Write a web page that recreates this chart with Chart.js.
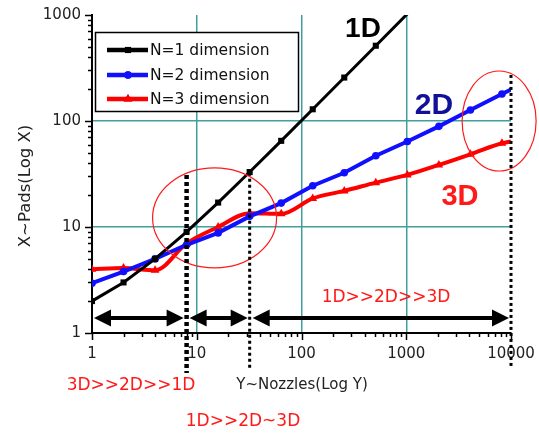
<!DOCTYPE html>
<html><head><meta charset="utf-8">
<script src="https://cdn.jsdelivr.net/npm/chart.js@4.4.0/dist/chart.umd.min.js"></script>
<style>html,body{margin:0;padding:0;background:#fff;overflow:hidden}</style>
</head><body>
<canvas id="c" width="539" height="437"></canvas>
<script>
// ---- data ----
const nozzles   = [1,2,4,8,16,32,64,128,256,512,1024,2048,4096,8192,10000];
const nozzles1D = [1,2,4,8,16,32,64,128,256,512,1024];
const pads1D = [2,3,5,9,17,33,65,129,257,513,1025];
const pads2D = [2.95,3.8,5.0,6.8,8.8,12.6,16.8,24.5,32.5,47,64,89,127,180,198];
const pads3D = [4.0,4.1,3.9,7.0,10.0,13.5,13.3,18.6,21.9,26.2,31,38.5,48.5,61.6,64];
const xTickLabels = [1,10,100,1000,10000];
const yTickLabels = [1,10,100,1000];
const seriesLabels = ['N=1 dimension','N=2 dimension','N=3 dimension'];
const boundaries = [8,32,10000];

const TEAL = '#40a0a0';
const RED = '#ff1a1a';
const pts = (xs, ys) => xs.map((x,i)=>({x, y: ys[i]}));
const isPow10 = v => { const l = Math.log10(v); return Math.abs(l-Math.round(l))<1e-9; };
const lastZero = r => ctx => (ctx.dataIndex === ctx.dataset.data.length-1 ? 0 : r);
const noPad = s => { s.paddingTop = 0; s.paddingBottom = 0; s.paddingLeft = 0; s.paddingRight = 0; };

const annot = {
  id: 'annot',
  afterDatasetsDraw(chart) {
    const ctx = chart.ctx, xs = chart.scales.x, ys = chart.scales.y;
    const px = v => xs.getPixelForValue(v), py = v => ys.getPixelForValue(v);
    const bottom = chart.chartArea.bottom, left = chart.chartArea.left;
    ctx.save();
    // tick marks
    ctx.strokeStyle = '#000'; ctx.lineWidth = 1.5;
    for (let e = 0; e <= 3; e++) for (let d = 1; d <= 9; d++) {
      const v = d*Math.pow(10,e); if (v > 10000) break;
      const x = Math.round(px(v))+0.5, L = d===1?7:4;
      ctx.beginPath(); ctx.moveTo(x, bottom); ctx.lineTo(x, bottom+L); ctx.stroke();
    }
    { const x = Math.round(px(10000))+0.5; ctx.beginPath(); ctx.moveTo(x,bottom); ctx.lineTo(x,bottom+7); ctx.stroke(); }
    for (let e = 0; e <= 2; e++) for (let d = 1; d <= 9; d++) {
      const v = d*Math.pow(10,e);
      const y = Math.round(py(v))+0.5, L = d===1?7:4;
      ctx.beginPath(); ctx.moveTo(left, y); ctx.lineTo(left-L, y); ctx.stroke();
    }
    { const y = Math.round(py(1000))+0.5; ctx.beginPath(); ctx.moveTo(left,y); ctx.lineTo(left-7,y); ctx.stroke(); }

    // ellipses
    ctx.strokeStyle = RED; ctx.lineWidth = 1.2;
    [[14.8,12.2,62,50],[7700,100,37,50]].forEach(([cx,cy,rx,ry])=>{
      ctx.beginPath(); ctx.ellipse(px(cx), py(cy), rx, ry, 0, 0, Math.PI*2); ctx.stroke();
    });

    // dotted boundary lines
    ctx.strokeStyle = '#000';
    const dl = [[boundaries[0], 31, 40, 4.5, [4,3]],[boundaries[1], 32.5, 35, 3, [3,3]],[boundaries[2], 272, 34, 3, [3,3]]];
    dl.forEach(([xv, yTop, ext, w, dash])=>{
      ctx.lineWidth = w; ctx.setLineDash(dash);
      const x = px(xv);
      ctx.beginPath(); ctx.moveTo(x, py(yTop)); ctx.lineTo(x, bottom+ext); ctx.stroke();
    });
    ctx.setLineDash([]);

    // double arrows
    const ay = py(1.385);
    const arrow = (x1, x2) => {
      const head = 17, hw = 8.5;
      ctx.fillStyle = '#000'; ctx.lineWidth = 4;
      ctx.beginPath(); ctx.moveTo(x1+head-2, ay); ctx.lineTo(x2-head+2, ay); ctx.stroke();
      ctx.beginPath(); ctx.moveTo(x1, ay); ctx.lineTo(x1+head, ay-hw); ctx.lineTo(x1+head, ay+hw); ctx.closePath(); ctx.fill();
      ctx.beginPath(); ctx.moveTo(x2, ay); ctx.lineTo(x2-head, ay-hw); ctx.lineTo(x2-head, ay+hw); ctx.closePath(); ctx.fill();
    };
    arrow(px(1)+2, px(boundaries[0])-3);
    arrow(px(boundaries[0])+3, px(boundaries[1])-2);
    arrow(px(boundaries[1])+3, px(boundaries[2])-2);

    // texts
    ctx.textAlign = 'center'; ctx.textBaseline = 'middle';
    const txt = (s, x, y, font, color) => { ctx.font = font; ctx.fillStyle = color; ctx.fillText(s, x, y); };
    txt('1D', 363, 29, 'bold 28px "Liberation Sans", Arial', '#000');
    txt('2D', 434, 106, 'bold 30px "Liberation Sans", Arial', '#10109a');
    txt('3D', 460, 197, 'bold 29px "Liberation Sans", Arial', RED);
    txt('1D>>2D>>3D', 386, 298, '17px "DejaVu Sans"', RED);
    txt('3D>>2D>>1D', 131, 386, '17px "DejaVu Sans"', RED);
    txt('1D>>2D~3D', 243, 422, '17px "DejaVu Sans"', RED);
    txt('Y~Nozzles(Log Y)', 302, 385, '15px "DejaVu Sans"', '#222');
    ctx.save(); ctx.translate(26, 186); ctx.rotate(-Math.PI/2);
    txt('X~Pads(Log X)', 0, 0, '16.5px "DejaVu Sans"', '#222');
    ctx.restore();

    // legend
    ctx.fillStyle = '#fff'; ctx.fillRect(95, 32, 203, 79);
    ctx.strokeStyle = '#000'; ctx.lineWidth = 1.5; ctx.strokeRect(95.5, 32.5, 203, 79);
    const rows = [50, 75, 99];
    chart.data.datasets.forEach((ds, i) => {
      const y = rows[i];
      ctx.strokeStyle = ds.borderColor; ctx.fillStyle = ds.borderColor; ctx.lineWidth = 4.5;
      ctx.beginPath(); ctx.moveTo(107, y); ctx.lineTo(148, y); ctx.stroke();
      Chart.helpers.drawPoint(ctx, {pointStyle: ds.pointStyle, radius: ds.legendRadius, borderWidth: 0}, 128, y);
      ctx.fill();
      ctx.font = '15.5px "DejaVu Sans"'; ctx.fillStyle = '#111'; ctx.textAlign = 'left';
      ctx.fillText(ds.label, 150, y+1);
    });
    ctx.restore();
  }
};

new Chart(document.getElementById('c'), {
  type: 'line',
  data: { datasets: [
    { label: seriesLabels[0], data: pts(nozzles1D, pads1D), borderColor: '#000', backgroundColor: '#000',
      borderWidth: 3, pointStyle: 'rect', pointRadius: lastZero(4.3), legendRadius: 4.3, pointBorderWidth: 0, tension: 0 },
    { label: seriesLabels[1], data: pts(nozzles, pads2D), borderColor: '#1010ff', backgroundColor: '#1010ff',
      borderWidth: 4, pointStyle: 'circle', pointRadius: lastZero(3.8), legendRadius: 3.8, pointBorderWidth: 0, tension: 0 },
    { label: seriesLabels[2], data: pts(nozzles, pads3D), borderColor: '#ff0000', backgroundColor: '#ff0000',
      borderWidth: 4, pointStyle: 'triangle', pointRadius: lastZero(5), legendRadius: 5, pointBorderWidth: 0, cubicInterpolationMode: 'monotone' }
  ]},
  options: {
    responsive: false, animation: false, devicePixelRatio: 1,
    layout: { padding: { top: 15, right: 28, left: 0, bottom: 0 } },
    plugins: { legend: { display: false }, tooltip: { enabled: false } },
    scales: {
      x: { type: 'logarithmic', min: 1, max: 10000,
        afterFit: s => { s.height = 104; noPad(s); },
        border: { display: true, color: '#000', width: 2 },
        grid: { drawTicks: false, lineWidth: 1.5, color: c => (c.tick && [10,100,1000].includes(Math.round(c.tick.value)) && isPow10(c.tick.value)) ? TEAL : 'rgba(0,0,0,0)' },
        ticks: { autoSkip: false, maxRotation: 0, minRotation: 0, padding: 12, color: '#222',
          font: { family: 'DejaVu Sans', size: 15 },
          callback: v => (isPow10(v) && xTickLabels.includes(Math.round(v))) ? String(Math.round(v)) : '' }
      },
      y: { type: 'logarithmic', min: 1, max: 1000,
        afterFit: s => { s.width = 92; noPad(s); },
        border: { display: true, color: '#000', width: 2 },
        grid: { drawTicks: false, lineWidth: 1.5, color: c => (c.tick && [10,100].includes(Math.round(c.tick.value)) && isPow10(c.tick.value)) ? TEAL : 'rgba(0,0,0,0)' },
        ticks: { autoSkip: false, padding: 11, color: '#222',
          font: { family: 'DejaVu Sans', size: 15 },
          callback: v => (isPow10(v) && yTickLabels.includes(Math.round(v))) ? String(Math.round(v)) : '' }
      }
    }
  },
  plugins: [annot]
});
</script>
</body></html>
